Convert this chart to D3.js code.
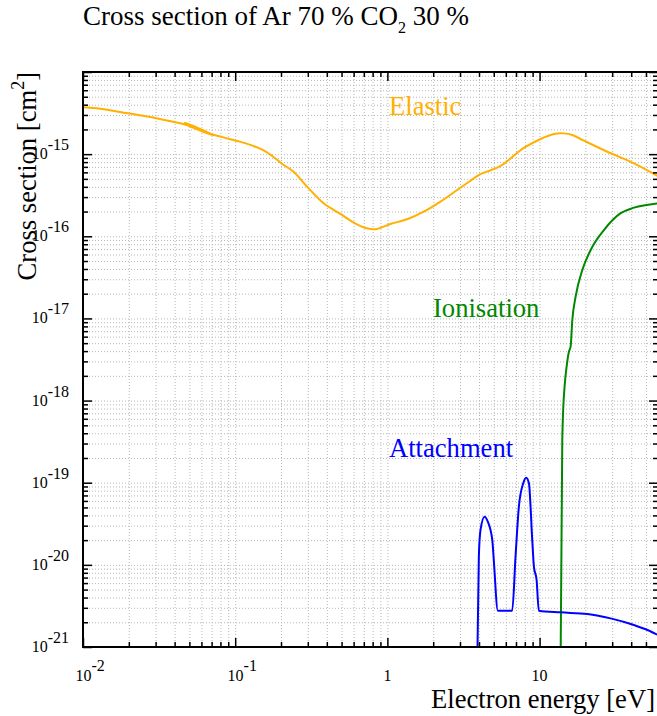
<!DOCTYPE html>
<html>
<head>
<meta charset="utf-8">
<script src="https://cdn.jsdelivr.net/npm/d3@7"></script>
<style>
  body { margin: 0; background: #fff; }
  text { font-family: "Liberation Serif", "Times New Roman", Times, serif; }
</style>
</head>
<body>
<svg id="chart" width="657" height="716"></svg>
<script>
// Electron energy [eV] and cross section [cm^2] for each process.
// The elastic table is two overlapping sets, so its energies step back once.
const elasticEnergy = [0.0100, 0.01223, 0.01977, 0.03034, 0.0391, 0.0479, 0.0616, 0.0735,
  0.0467, 0.052, 0.065, 0.0834, 0.1074, 0.1312, 0.1528, 0.1778, 0.2037, 0.2421, 0.2966,
  0.3811, 0.4909, 0.5998, 0.7338, 0.8337, 0.9226, 1.047, 1.348, 1.733, 2.233, 2.875,
  3.516, 3.99, 5.54, 7.88, 10.16, 12.42, 14.45, 16.41, 19.55, 27.88, 41.7, 60];
const elasticSigma = [3.72e-15, 3.61e-15, 3.14e-15, 2.74e-15, 2.48e-15, 2.26e-15, 1.87e-15, 1.68e-15,
  2.42e-15, 2.15e-15, 1.82e-15, 1.60e-15, 1.42e-15, 1.26e-15, 1.12e-15, 9.31e-16, 7.58e-16, 6.11e-16, 4.02e-16,
  2.52e-16, 1.87e-16, 1.47e-16, 1.25e-16, 1.22e-16, 1.29e-16, 1.41e-16, 1.61e-16, 1.99e-16, 2.64e-16, 3.66e-16,
  4.75e-16, 5.57e-16, 7.18e-16, 1.19e-15, 1.53e-15, 1.76e-15, 1.79e-15, 1.71e-15, 1.46e-15, 1.07e-15, 7.74e-16, 5.40e-16];

const ionisationEnergy = [13.77, 14.10, 14.17, 14.32, 14.60, 15.05, 15.59, 15.99, 16.41, 17.25,
  19.10, 21.67, 26.48, 34.12, 41.7, 60];
const ionisationSigma = [0, 3.31e-19, 4.81e-19, 8.41e-19, 1.48e-18, 2.58e-18, 3.94e-18, 4.53e-18, 9.57e-18, 1.84e-17,
  3.89e-17, 6.81e-17, 1.19e-16, 1.91e-16, 2.23e-16, 2.52e-16];

const attachmentEnergy = [3.91, 3.99, 4.09, 4.35, 4.57, 4.89, 5.00, 5.32, 6.61, 6.95, 7.31, 7.81,
  8.17, 8.51, 8.95, 9.18, 9.56, 9.89, 13.75, 20.6, 29.3, 41.7, 51.2, 60];
const attachmentSigma = [0, 1.26e-20, 2.65e-20, 3.86e-20, 3.35e-20, 2.01e-20, 1.15e-20, 2.77e-21, 2.77e-21, 1.26e-20, 5.10e-20, 9.84e-20,
  1.15e-19, 9.84e-20, 2.01e-20, 9.50e-21, 6.55e-21, 2.77e-21, 2.64e-21, 2.52e-21, 2.23e-21, 1.85e-21, 1.61e-21, 1.40e-21];

// Axis ticks and their labels (base, exponent)
const xMajorTicks = [0.01, 0.1, 1, 10];
const xTickLabels = [["10", "-2"], ["10", "-1"], ["1", ""], ["10", ""]];
const yMajorTicks = [1e-21, 1e-20, 1e-19, 1e-18, 1e-17, 1e-16, 1e-15];
const yTickLabels = ["-21", "-20", "-19", "-18", "-17", "-16", "-15"];

const processNames = ["Elastic", "Ionisation", "Attachment"];
const processColors = ["#ffb000", "#008800", "#0000ff"];

const svg = d3.select("#chart");
const plotLeft = 83, plotRight = 658, plotTop = 72, plotBottom = 647;

const x = d3.scaleLog().domain([0.01, 60]).range([plotLeft, plotRight]);
const y = d3.scaleLog().domain([1e-21, 1e-14]).range([plotBottom, plotTop]).clamp(true);

// all 1..9 x 10^n values inside [lo, hi]
function logSteps(lo, hi) {
  const out = [];
  for (let e = Math.floor(Math.log10(lo)); e <= Math.ceil(Math.log10(hi)); e++) {
    for (let k = 1; k <= 9; k++) {
      const v = +(k * Math.pow(10, e)).toPrecision(6);
      if (v >= lo * 0.9999 && v <= hi * 1.0001) out.push(v);
    }
  }
  return out;
}
const xAll = logSteps(0.01, 60);
const yAll = logSteps(1e-21, 1e-14);
const isMajor = v => Math.abs(Math.log10(v) - Math.round(Math.log10(v))) < 1e-6;
const xMinor = xAll.filter(v => !isMajor(v));
const yMinor = yAll.filter(v => !isMajor(v));
const xMajorAll = xAll.filter(isMajor);
const yMajorAll = yAll.filter(isMajor);

// dotted grid at every major and minor step
function styleGrid(g) {
  g.select(".domain").remove();
  g.selectAll("line").attr("stroke", "#b8b8b8").attr("stroke-width", 1).attr("stroke-dasharray", "1 2");
}
svg.append("g").attr("transform", `translate(0,${plotBottom})`)
  .call(d3.axisBottom(x).tickValues(xAll.filter(v => v > 0.01 && v < 60)).tickSize(-(plotBottom - plotTop)).tickFormat(""))
  .call(styleGrid);
svg.append("g").attr("transform", `translate(${plotLeft},0)`)
  .call(d3.axisLeft(y).tickValues(yAll.filter(v => v > 1e-21 && v < 1e-14)).tickSize(-(plotRight - plotLeft)).tickFormat(""))
  .call(styleGrid);

// curves
svg.append("clipPath").attr("id", "plotArea")
  .append("rect").attr("x", plotLeft).attr("y", plotTop)
  .attr("width", plotRight - plotLeft).attr("height", plotBottom - plotTop);
const plot = svg.append("g").attr("clip-path", "url(#plotArea)");

function series(es, ss) { return es.map((e, i) => [e, ss[i]]); }
const rounded = d3.line().x(d => x(d[0])).y(d => y(d[1])).curve(d3.curveCatmullRom.alpha(0.5));
const smooth = d3.line().x(d => x(d[0])).y(d => y(d[1])).curve(d3.curveMonotoneX);

plot.append("path").datum(series(elasticEnergy, elasticSigma))
  .attr("d", rounded).attr("fill", "none").attr("stroke", processColors[0]).attr("stroke-width", 2)
  .attr("stroke-linejoin", "round");
plot.append("path").datum(series(ionisationEnergy, ionisationSigma))
  .attr("d", smooth).attr("fill", "none").attr("stroke", processColors[1]).attr("stroke-width", 2);
plot.append("path").datum(series(attachmentEnergy, attachmentSigma))
  .attr("d", smooth).attr("fill", "none").attr("stroke", processColors[2]).attr("stroke-width", 2);

// frame ticks, pointing inwards on all four sides
function styleTicks(g) {
  g.select(".domain").remove();
  g.selectAll("line").attr("stroke", "#000").attr("stroke-width", 1.5);
}
const sides = [
  [() => d3.axisBottom(x), `translate(0,${plotBottom})`, xMajorAll, xMinor],
  [() => d3.axisTop(x), `translate(0,${plotTop})`, xMajorAll, xMinor],
  [() => d3.axisLeft(y), `translate(${plotLeft},0)`, yMajorAll, yMinor],
  [() => d3.axisRight(y), `translate(${plotRight},0)`, yMajorAll, yMinor]
];
sides.forEach(([makeAxis, tr, major, minor]) => {
  svg.append("g").attr("transform", tr)
    .call(makeAxis().tickValues(major).tickSize(-9).tickFormat("")).call(styleTicks);
  svg.append("g").attr("transform", tr)
    .call(makeAxis().tickValues(minor).tickSize(-5).tickFormat("")).call(styleTicks);
});

svg.append("rect").attr("x", plotLeft).attr("y", plotTop)
  .attr("width", plotRight - plotLeft).attr("height", plotBottom - plotTop)
  .attr("fill", "none").attr("stroke", "#000").attr("stroke-width", 2);

// x tick labels
xMajorTicks.forEach((v, i) => {
  const [base, exp] = xTickLabels[i];
  const t = svg.append("text").attr("y", 680.5).attr("font-size", 16).attr("fill", "#000");
  if (exp) {
    t.attr("x", x(v) - 7.6).attr("text-anchor", "start");
    t.append("tspan").text(base);
    t.append("tspan").attr("dy", -10).text(exp);
  } else {
    t.attr("x", x(v)).attr("text-anchor", "middle").text(base);
  }
});

// y tick labels
yMajorTicks.forEach((v, i) => {
  const t = svg.append("text").attr("x", 69).attr("y", y(v) + 5)
    .attr("font-size", 16).attr("text-anchor", "end").attr("fill", "#000");
  t.append("tspan").text("10");
  t.append("tspan").attr("dy", -9).text(yTickLabels[i]);
});

// axis titles
const yTitle = svg.append("text").attr("transform", `translate(36,${plotTop}) rotate(-90)`)
  .attr("text-anchor", "end").attr("font-size", 26.6).attr("fill", "#000");
yTitle.append("tspan").text("Cross section [cm");
yTitle.append("tspan").attr("dy", -12).attr("font-size", 18).text("2");
yTitle.append("tspan").attr("dy", 12).text("]");

svg.append("text").attr("x", 655).attr("y", 708).attr("text-anchor", "end")
  .attr("font-size", 26.6).attr("fill", "#000").text("Electron energy [eV]");

// chart title
const title = svg.append("text").attr("x", 83).attr("y", 25).attr("font-size", 27).attr("fill", "#000");
title.append("tspan").text("Cross section of Ar 70 % CO");
title.append("tspan").attr("dy", 8).attr("font-size", 16).text("2");
title.append("tspan").attr("dy", -8).text(" 30 %");

// process labels
const labelPos = [[389, 115], [433, 317], [389, 457]];
processNames.forEach((name, i) => {
  svg.append("text").attr("x", labelPos[i][0]).attr("y", labelPos[i][1])
    .attr("font-size", 26.6).attr("fill", processColors[i]).text(name);
});
</script>
</body>
</html>
